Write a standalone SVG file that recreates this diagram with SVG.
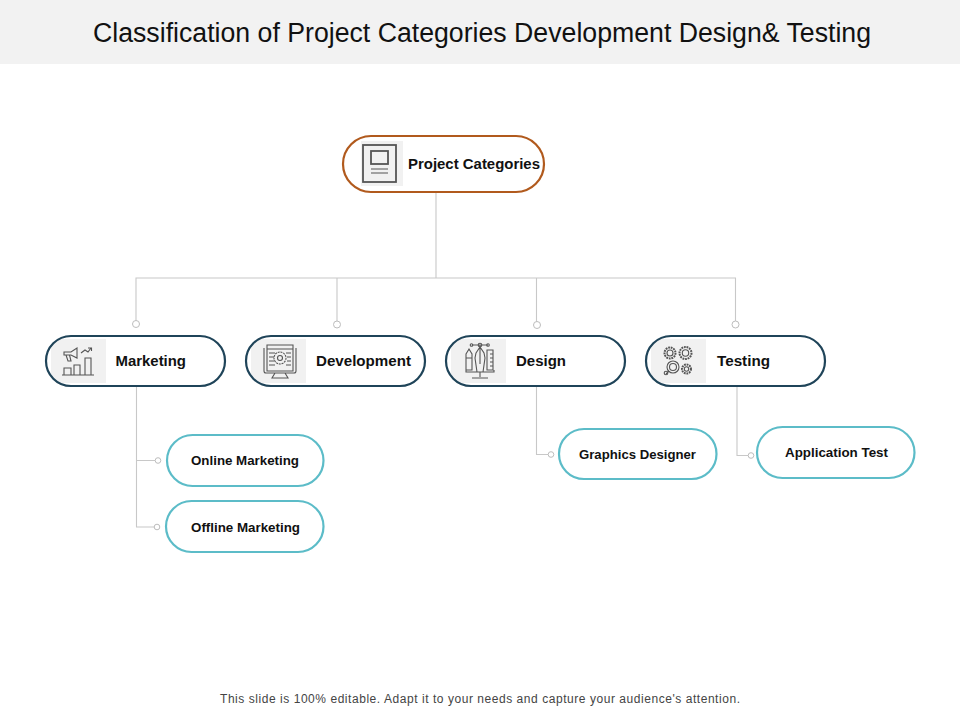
<svg xmlns="http://www.w3.org/2000/svg" width="960" height="720" viewBox="0 0 960 720">
<style>
text{font-family:"Liberation Sans",Arial,sans-serif;fill:#111}
.l{font-size:14.5px;font-weight:700}
.s{font-size:12.5px;font-weight:700}
.m{fill:none;stroke:#1f4459;stroke-width:2.2}
.c{fill:#fff;stroke:#5cbcc8;stroke-width:2.2}
.r{fill:none;stroke:#b15a1d;stroke-width:2.2}
.ib{fill:#f1f1f1}
.i{fill:none;stroke:#555;stroke-width:1.1}
.i2{fill:none;stroke:#555;stroke-width:1.8}
.w{fill:none;stroke:#c8c8c8;stroke-width:1.1}
.d{fill:#fff;stroke:#bdbdbd;stroke-width:1}
</style>
<defs>
<path id="bg" d="M59.100 339H106V383H59.100A25 25 0 0 1 51 376V346A25 25 0 0 1 59.100 339Z"/>
</defs>
<rect x="0" y="0" width="960" height="64" fill="#f2f2f2"/>
<text x="482" y="42" font-size="27" text-anchor="middle" textLength="778" lengthAdjust="spacingAndGlyphs">Classification of Project Categories Development Design&amp; Testing</text>
<g id="connectors">
<path class="w" d="M436 192V278M136 322V278H735.500V322M337 278V322M536.500 278V322"/>
<path class="w" d="M136.500 386V527H155M136.500 460.500H155"/>
<path class="w" d="M536.500 386V454.500H548"/>
<path class="w" d="M737 386V455.500H748"/>
<circle class="d" cx="136" cy="324" r="3.500"/>
<circle class="d" cx="337" cy="324.500" r="3.500"/>
<circle class="d" cx="537" cy="325" r="3.500"/>
<circle class="d" cx="735.500" cy="324.500" r="3.500"/>
<circle class="d" cx="158" cy="460.500" r="2.800"/>
<circle class="d" cx="157" cy="527" r="2.800"/>
<circle class="d" cx="551" cy="454.500" r="2.800"/>
<circle class="d" cx="751" cy="455.500" r="2.800"/>
</g>
<g id="node-project-categories">
<rect class="ib" x="361" y="141" width="42" height="45"/>
<rect class="r" x="343" y="136" width="201" height="56" rx="28"/>
<rect class="i2" x="363" y="145" width="33" height="37"/>
<rect class="i2" x="371" y="151" width="17" height="13"/>
<path class="i" d="M371 169H388M371 173H388"/>
<text class="l" x="408" y="169" textLength="132" lengthAdjust="spacingAndGlyphs">Project Categories</text>
</g>
<g id="node-marketing">
<use href="#bg" class="ib"/>
<rect class="m" x="46" y="336" width="179" height="50" rx="25"/>
<path class="i" d="M64 352L71 352L77 348V358L71 355H64ZM66 355L68 361H71L69.500 355M81 353L85 350L88 352L91 348M88 348H91.500V351M64 368V375H71V368ZM74 365V375H80V365ZM85 358V375H91V358ZM62 375H94"/>
<text class="l" x="115.500" y="366" textLength="70.500" lengthAdjust="spacingAndGlyphs">Marketing</text>
</g>
<g id="node-development">
<use href="#bg" class="ib" x="200"/>
<rect class="m" x="246" y="336" width="179" height="50" rx="25"/>
<path class="i" d="M267 345H293V371H267ZM267 349H293M264 348V371Q264 373 266 373H294Q296 373 296 371V348M275 373L272 378H288L285 373M269 353H275M269 357H274M269 361H274M269 365H275M286 353H291M287 357H291M287 361H291M286 365H291"/>
<circle class="i" cx="280" cy="358" r="6" stroke-dasharray="2 0.800" stroke-width="1.600"/>
<circle class="i" cx="280" cy="358" r="2.500"/>
<text class="l" x="316" y="366" textLength="95" lengthAdjust="spacingAndGlyphs">Development</text>
</g>
<g id="node-design">
<use href="#bg" class="ib" x="400"/>
<rect class="m" x="446" y="336" width="179" height="50" rx="25"/>
<path class="i" d="M472 345H488M480 345V353M476 353L480 347L484 353L485 358L483 372H477L475 358ZM480 353V364M466 354L469 349L472 354V370H466ZM466 358H472M487 350H493V370H487ZM490 354H493M490 358H493M490 362H493M490 366H493M466 370V372H494V370M480 372V377M472 378H488"/>
<circle class="i" cx="471.500" cy="345" r="1.300"/>
<circle class="i" cx="480" cy="345" r="1.800"/>
<circle class="i" cx="488" cy="345" r="1.300"/>
<text class="l" x="516" y="366" textLength="50" lengthAdjust="spacingAndGlyphs">Design</text>
</g>
<g id="node-testing">
<use href="#bg" class="ib" x="600"/>
<rect class="m" x="646" y="336" width="179" height="50" rx="25"/>
<g class="i">
<circle cx="670" cy="353" r="5.500" stroke-dasharray="1.800 0.800" stroke-width="2"/>
<circle cx="670" cy="353" r="3"/>
<circle cx="685.500" cy="353" r="6" stroke-dasharray="1.800 0.800" stroke-width="2"/>
<circle cx="685.500" cy="353" r="3.200"/>
<circle cx="673" cy="367" r="6"/>
<circle cx="673" cy="367" r="3.500"/>
<path d="M669 371L666 374"/>
<circle cx="666" cy="373" r="1.800"/>
<circle cx="686.500" cy="369" r="4.500" stroke-dasharray="1.800 0.800" stroke-width="2"/>
<circle cx="686.500" cy="369" r="2.200"/>
</g>
<text class="l" x="717" y="366" textLength="53" lengthAdjust="spacingAndGlyphs">Testing</text>
</g>
<g id="node-online-marketing">
<rect class="c" x="167" y="435" width="156.500" height="51" rx="25.500"/>
<text class="s" x="191" y="465" textLength="108" lengthAdjust="spacingAndGlyphs">Online Marketing</text>
</g>
<g id="node-offline-marketing">
<rect class="c" x="166" y="501" width="157.500" height="51" rx="25.500"/>
<text class="s" x="191" y="532" textLength="109" lengthAdjust="spacingAndGlyphs">Offline Marketing</text>
</g>
<g id="node-graphics-designer">
<rect class="c" x="559" y="429" width="157.500" height="50" rx="25"/>
<text class="s" x="579" y="459" textLength="117" lengthAdjust="spacingAndGlyphs">Graphics Designer</text>
</g>
<g id="node-application-test">
<rect class="c" x="757" y="427" width="157.500" height="51" rx="25.500"/>
<text class="s" x="785" y="457" textLength="103" lengthAdjust="spacingAndGlyphs">Application Test</text>
</g>
<text x="480" y="703" font-size="12" text-anchor="middle" style="fill:#444" textLength="520" lengthAdjust="spacing">This slide is 100% editable. Adapt it to your needs and capture your audience's attention.</text>
</svg>
